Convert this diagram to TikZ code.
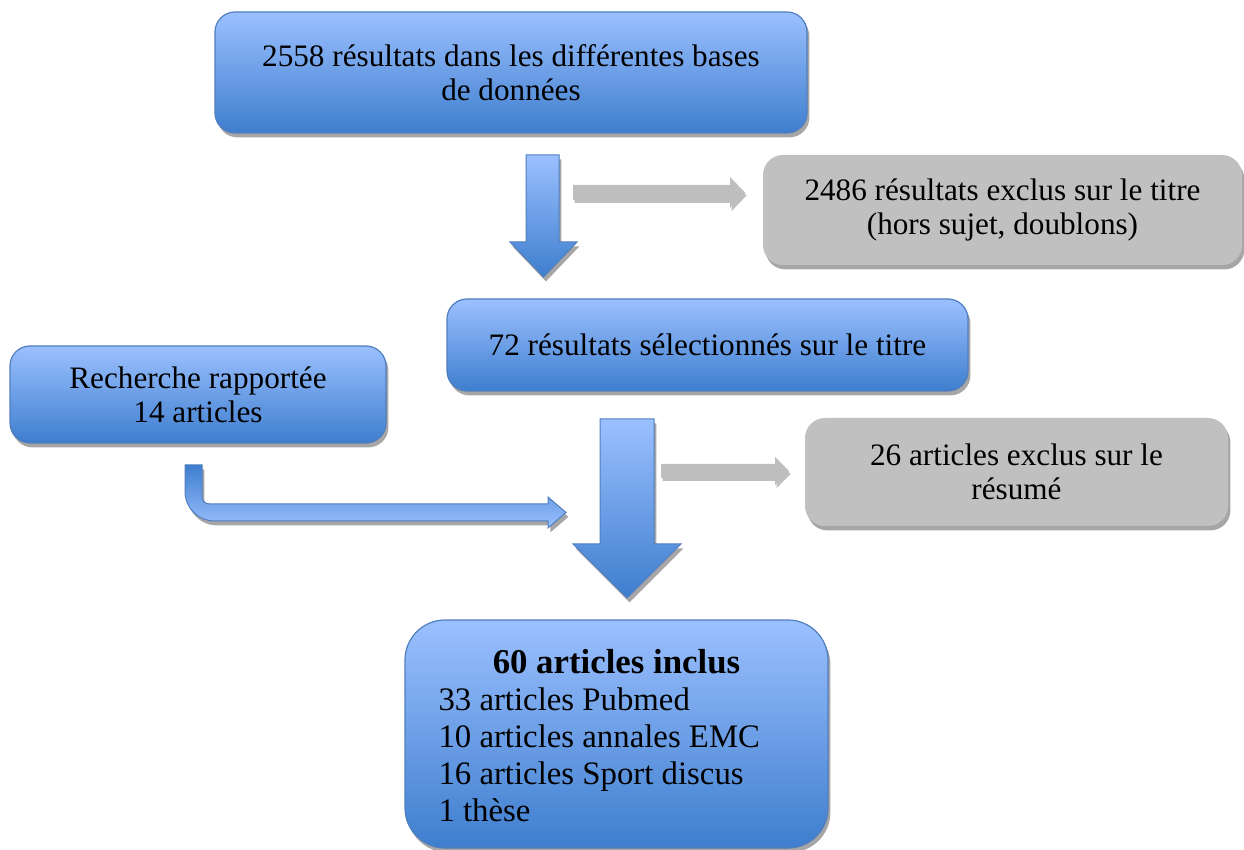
\documentclass[tikz,border=0pt]{standalone}
\usepackage{fontspec}
\setmainfont{Liberation Serif}
\usetikzlibrary{shadows}
\definecolor{bluetop}{RGB}{155,192,255}
\definecolor{bluebot}{RGB}{62,126,206}
\definecolor{blueedge}{RGB}{80,126,190}
\definecolor{grayfill}{RGB}{192,192,192}
\definecolor{grayarrow}{RGB}{190,190,190}
\tikzset{
  myshadow/.style={drop shadow={shadow xshift=1.2pt,shadow yshift=-2.2pt,opacity=0.35,fill=black}},
  bluebox/.style={rectangle,rounded corners=10pt,top color=bluetop,bottom color=bluebot,draw=blueedge,line width=0.6pt,myshadow,align=center,font=\fontsize{15.6}{17}\selectfont,inner sep=0pt},
  graybox/.style={rectangle,rounded corners=10pt,fill=grayfill,draw=none,myshadow,align=center,font=\fontsize{15.6}{17}\selectfont,inner sep=0pt},
  bluearrow/.style={top color=bluetop,bottom color=bluebot,draw=blueedge,line width=0.5pt,myshadow},
  grayarrowst/.style={fill=grayarrow,draw=none,drop shadow={shadow xshift=0.8pt,shadow yshift=-1.5pt,opacity=0.25,fill=black}},
}
\begin{document}
\begin{tikzpicture}[x=0.5pt,y=-0.5pt]
\useasboundingbox (0,0) rectangle (1244,850);
% boxes
\node[bluebox,minimum width=296pt,minimum height=60.5pt] (b1) at (511,72.5) {2558 résultats dans les différentes bases\\de données};
\node[graybox,minimum width=239.5pt,minimum height=55pt] (g1) at (1002.5,210) {2486 résultats exclus sur le titre\\(hors sujet, doublons)};
\node[bluebox,minimum width=260.5pt,minimum height=46pt] (b2) at (707.5,345) {72 résultats sélectionnés sur le titre};
\node[bluebox,minimum width=188pt,minimum height=48.5pt] (b3) at (198,394.5) {Recherche rapportée\\14 articles};
\node[graybox,minimum width=211.5pt,minimum height=54pt] (g2) at (1016.5,472) {26 articles exclus sur le\\résumé};
\node[bluebox,rounded corners=20pt,minimum width=211.5pt,minimum height=114pt] (b4) at (616.5,734) {};
\node[font=\fontsize{16.4}{18.5}\selectfont,inner sep=0pt] (b4t) at (616.5,736) {\begin{minipage}{178pt}\centering\textbf{\fontsize{17.4}{18.5}\selectfont 60 articles inclus}\par\raggedright
33 articles Pubmed\\
10 articles annales EMC\\
16 articles Sport discus\\
1 thèse\par\end{minipage}};
% coordinates for arrows
\coordinate (a1) at (543,155);
\coordinate (a2) at (627,419);
\coordinate (c1) at (573,192.5);
\coordinate (c2) at (661,471);
\coordinate (d1) at (185,465);
% down arrow 1
\shade[bluearrow] (a1) ++(-17,0) -- ++(33,0) -- ++(0,87) -- ++(18,0) -- (543.5,277) -- (510,242) -- (526,242) -- cycle;
% down arrow 2
\shade[bluearrow] (a2) ++(-27,0) -- ++(54,0) -- ++(0,125) -- ++(27,0) -- (627,598) -- (573,544) -- (600,544) -- cycle;
% gray arrows
\fill[grayarrowst] (c1) ++(0,-7.5) -- (730,185) -- (730,177) -- (745,192.5) -- (730,208) -- (730,200) -- (573,200) -- cycle;
\fill[grayarrowst] (c2) ++(0,-7) -- (775,464) -- (775,457) -- (789,471) -- (775,485) -- (775,478) -- (661,478) -- cycle;
% bent arrow
\shade[top color=bluebot,bottom color=bluetop,draw=blueedge,line width=0.5pt,myshadow]
  (d1) -- (185,491) .. controls (185,508) and (198,521) .. (215,521) -- (548,521) -- (548,528) -- (566,512.5) -- (548,497) -- (548,504) -- (210,504) .. controls (205,504) and (202,501) .. (202,496) -- (202,465) -- cycle;
\end{tikzpicture}
\end{document}
